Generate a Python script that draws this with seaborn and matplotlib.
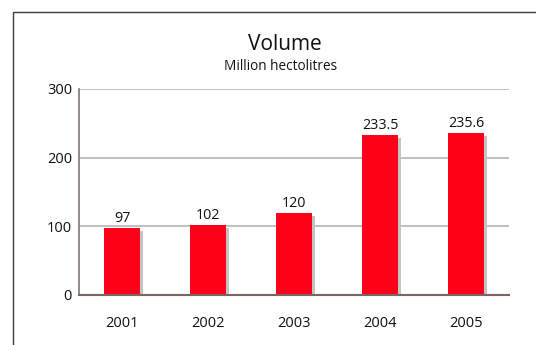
import matplotlib
matplotlib.use("Agg")
import matplotlib.pyplot as plt
from matplotlib.patches import Rectangle
from matplotlib.transforms import offset_copy
import seaborn as sns
import pandas as pd

years = ["2001", "2002", "2003", "2004", "2005"]
volumes = [97, 102, 120, 233.5, 235.6]
value_labels = ["97", "102", "120", "233.5", "235.6"]
y_ticks = [0, 100, 200, 300]

sns.set_style("white")
plt.rcParams["font.family"] = ["Open Sans", "DejaVu Sans"]

df = pd.DataFrame({"year": years, "volume": volumes})

fig = plt.figure(figsize=(5.36, 3.45), dpi=100)
ax = fig.add_axes([79 / 536, 1 - 295 / 345, 430 / 536, 206 / 345])

# outer frame of the panel
fig.add_artist(Rectangle((13 / 536, -0.1), 1.2, 1 - 12 / 345 + 0.1,
                         transform=fig.transFigure, fill=False,
                         edgecolor="#3c3c3c", linewidth=1.0))

# grey drop shadow layer, shifted a few pixels right and down
sns.barplot(data=df, x="year", y="volume", color="#c4c4c4", width=0.41,
            saturation=1, ax=ax, zorder=2, edgecolor="none", linewidth=0)
shadow_tf = offset_copy(ax.transData, fig=fig, x=3, y=-3, units="dots")
n_shadow = len(ax.patches)
for p in ax.patches:
    p.set_transform(shadow_tf)

# red bars on top
sns.barplot(data=df, x="year", y="volume", color="#ff0019", width=0.41,
            saturation=1, ax=ax, zorder=3, edgecolor="none", linewidth=0)
bars = ax.patches[n_shadow:]

for bar, txt in zip(bars, value_labels):
    ax.annotate(txt, (bar.get_x() + bar.get_width() / 2, bar.get_height()),
                xytext=(0, 1.5), textcoords="offset points",
                ha="center", va="bottom", fontsize=10.3, color="#111111")

ax.set_ylim(0, 300)
ax.set_xlim(-0.5, len(years) - 0.5)
ax.set_yticks(y_ticks)
ax.set_yticklabels([str(t) for t in y_ticks])
ax.yaxis.grid(True, color="#b4b4b4", linewidth=1.2, zorder=0)
ax.set_axisbelow(True)
ax.tick_params(axis="y", length=0, pad=5, labelsize=10.5, labelcolor="#111111")
ax.tick_params(axis="x", length=0, pad=15, labelsize=10.5, labelcolor="#111111")
ax.set_xlabel("")
ax.set_ylabel("")

for side in ("top", "right"):
    ax.spines[side].set_visible(False)
ax.spines["left"].set_color("#807878")
ax.spines["left"].set_linewidth(1.2)
ax.spines["bottom"].set_color("#7a6464")
ax.spines["bottom"].set_linewidth(1.5)
ax.spines["bottom"].set_zorder(4)

fig.text(285 / 536, 1 - 45 / 345, "Volume",
         ha="center", va="center", fontsize=15, color="#111111")
fig.text(281 / 536, 1 - 67 / 345, "Million hectolitres",
         ha="center", va="center", fontsize=9.8, color="#111111")

fig.savefig("out.png", dpi=100, facecolor="white")
